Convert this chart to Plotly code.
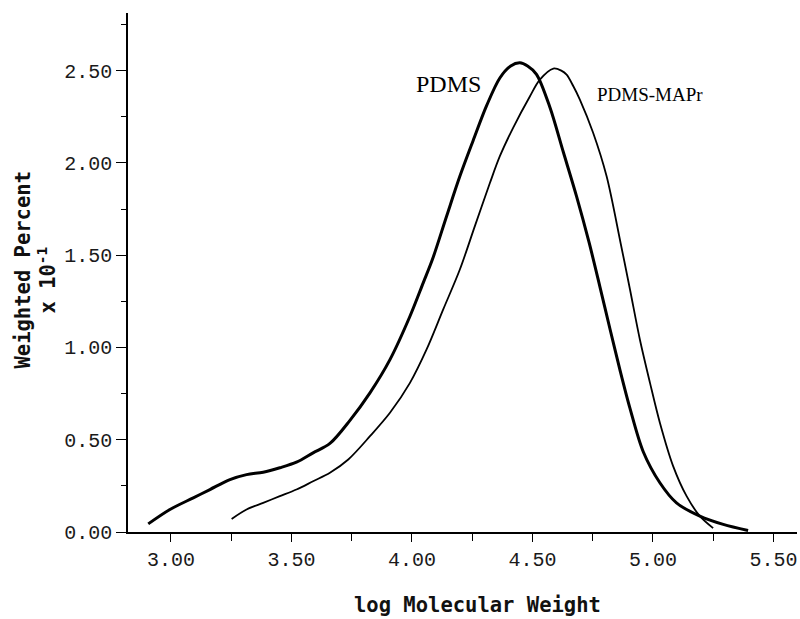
import plotly.graph_objects as go

# PDMS (thick curve)
pdms_x = [2.906, 2.996, 3.093, 3.162, 3.245, 3.314, 3.383, 3.452, 3.521, 3.590, 3.660,
          3.743, 3.826, 3.909, 3.992, 4.047, 4.085, 4.144, 4.199, 4.254, 4.310, 4.365,
          4.410, 4.448, 4.480, 4.517, 4.573, 4.628, 4.683, 4.735, 4.780, 4.822, 4.863,
          4.905, 4.960, 5.029, 5.098, 5.195, 5.292, 5.395]
pdms_y = [0.044, 0.122, 0.185, 0.230, 0.284, 0.311, 0.324, 0.348, 0.378, 0.429, 0.480,
          0.605, 0.754, 0.934, 1.169, 1.350, 1.476, 1.711, 1.927, 2.120, 2.310, 2.460,
          2.525, 2.542, 2.525, 2.480, 2.300, 2.060, 1.820, 1.570, 1.330, 1.100, 0.880,
          0.670, 0.435, 0.267, 0.158, 0.086, 0.041, 0.008]

# PDMS-MAPr (thin curve)
mapr_x = [3.252, 3.314, 3.383, 3.452, 3.521, 3.590, 3.660, 3.736, 3.826, 3.909, 3.992,
          4.061, 4.130, 4.199, 4.262, 4.324, 4.365, 4.420, 4.490, 4.531, 4.587, 4.620,
          4.642, 4.670, 4.697, 4.752, 4.808, 4.866, 4.905, 4.946, 4.988, 5.029, 5.084,
          5.140, 5.195, 5.250]
mapr_y = [0.071, 0.122, 0.158, 0.194, 0.230, 0.275, 0.321, 0.393, 0.519, 0.646, 0.808,
          0.989, 1.206, 1.422, 1.660, 1.892, 2.036, 2.190, 2.361, 2.451, 2.511, 2.500,
          2.478, 2.415, 2.343, 2.163, 1.927, 1.566, 1.314, 1.043, 0.808, 0.592, 0.357,
          0.194, 0.086, 0.021]

curve_names = ["PDMS", "PDMS-MAPr"]

fig = go.Figure()
fig.add_trace(go.Scatter(x=pdms_x, y=pdms_y, mode="lines", name=curve_names[0],
                         line=dict(color="black", width=3, shape="spline", smoothing=0.9)))
fig.add_trace(go.Scatter(x=mapr_x, y=mapr_y, mode="lines", name=curve_names[1],
                         line=dict(color="black", width=1.8, shape="spline", smoothing=0.9)))

tickfont = dict(family="Liberation Mono", size=20, color="#1a1a1a")
fig.update_layout(
    width=800, height=619,
    margin=dict(l=128, r=3, t=13, b=87),
    paper_bgcolor="white", plot_bgcolor="white",
    showlegend=False,
    xaxis=dict(range=[2.822, 5.598], tick0=3, dtick=0.5, tickformat=".2f",
               showline=True, linecolor="black", linewidth=1.5, showgrid=False,
               zeroline=False, ticks="outside", ticklen=8, tickwidth=1.3,
               tickcolor="black", tickfont=tickfont,
               minor=dict(dtick=0.25, tick0=3, ticks="outside", ticklen=7,
                          tickwidth=1.3, tickcolor="black", showgrid=False)),
    yaxis=dict(range=[0, 2.812], tick0=0, dtick=0.5, tickformat=".2f",
               showline=True, linecolor="black", linewidth=1.5, showgrid=False,
               zeroline=False, ticks="outside", ticklen=10, tickwidth=1.3,
               tickcolor="black", tickfont=tickfont,
               minor=dict(dtick=0.25, tick0=0, ticks="outside", ticklen=5,
                          tickwidth=1.3, tickcolor="black", showgrid=False)),
)

titlefont = dict(family="DejaVu Sans Mono", size=20.5, color="#111")
fig.add_annotation(text="<b>log Molecular Weight</b>", xref="paper", yref="paper",
                   x=(477 - 128) / 669, y=-(605 - 532.5) / 519, showarrow=False,
                   font=titlefont, xanchor="center", yanchor="middle")
fig.add_annotation(text="<b>Weighted Percent</b>", xref="paper", yref="paper",
                   x=-(128 - 22) / 669, y=(532.5 - 271) / 519, showarrow=False,
                   textangle=-90, font=titlefont, xanchor="center", yanchor="middle")
fig.add_annotation(text="<b>x 10<sup>-1</sup></b>", xref="paper", yref="paper",
                   x=-(128 - 47) / 669, y=(532.5 - 281) / 519, showarrow=False,
                   textangle=-90, font=titlefont, xanchor="center", yanchor="middle")

fig.add_annotation(text=curve_names[0], x=4.15, y=2.43, showarrow=False,
                   font=dict(family="Liberation Serif", size=24, color="black"),
                   xanchor="center", yanchor="middle")
fig.add_annotation(text=curve_names[1], x=4.99, y=2.37, showarrow=False,
                   font=dict(family="Liberation Serif", size=19, color="black"),
                   xanchor="center", yanchor="middle")

fig.write_html("out.html")
